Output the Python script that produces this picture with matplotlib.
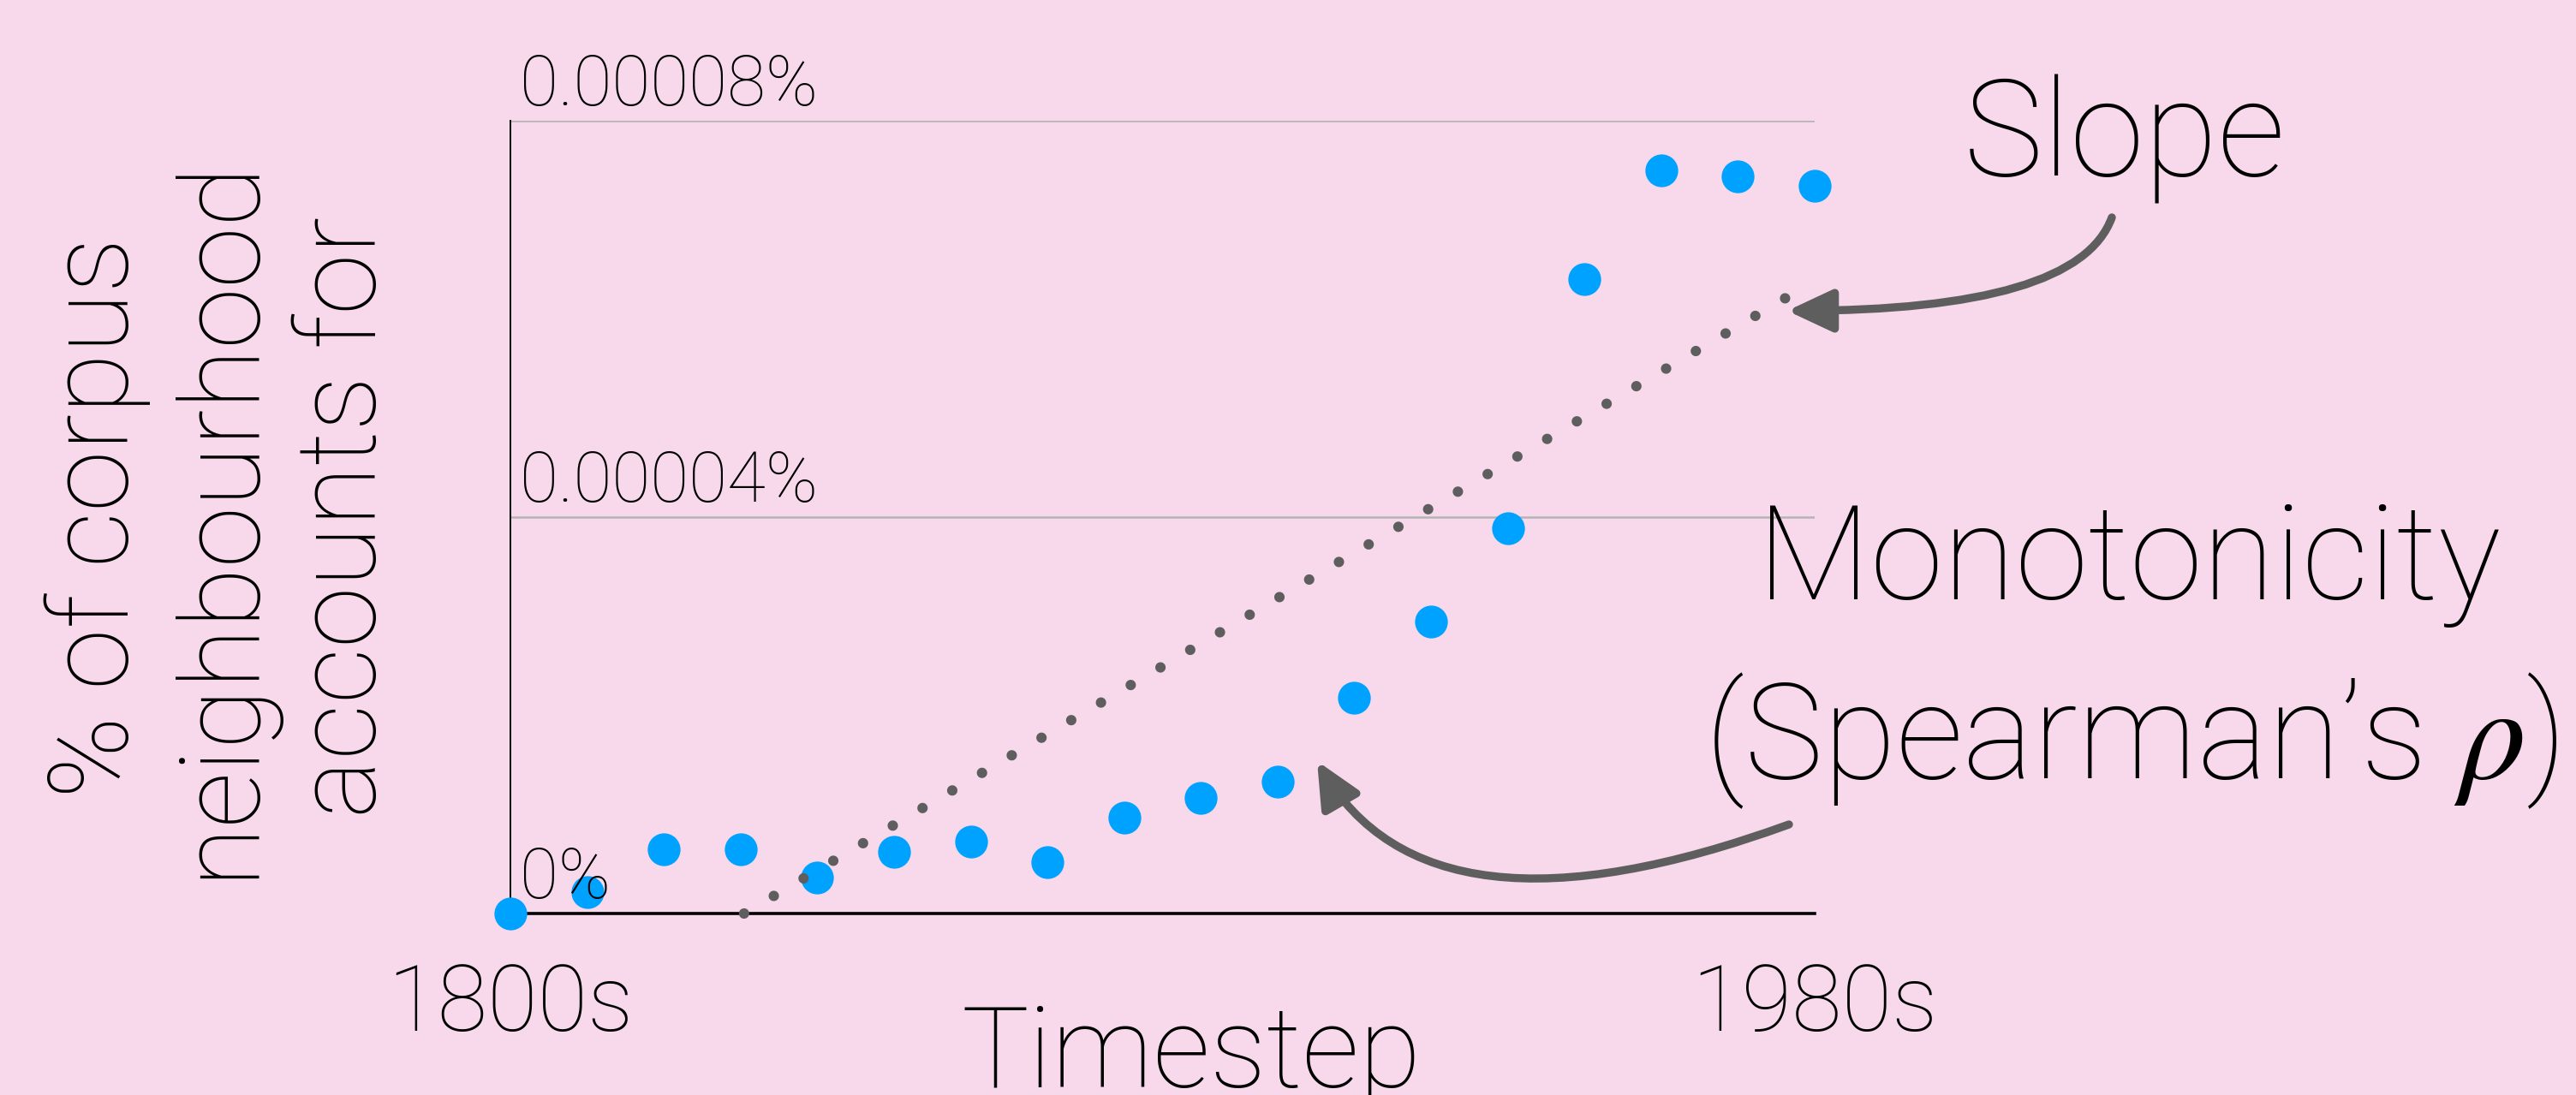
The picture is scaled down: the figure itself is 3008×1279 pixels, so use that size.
import numpy as np
import matplotlib
matplotlib.use("Agg")
import matplotlib.pyplot as plt
from matplotlib.patches import FancyArrowPatch

# share of corpus the neighbourhood accounts for, in units of 1e-5 %
share = [0.0, 0.22, 0.65, 0.65, 0.36, 0.62, 0.73, 0.52, 0.97,
         1.17, 1.33, 2.18, 2.95, 3.89, 6.40, 7.50, 7.44, 7.34]
y_ticks = [0, 4, 8]
y_tick_labels = ["0%", "0.00004%", "0.00008%"]
x_tick_labels = ["1800s", "1980s"]

PINK = "#F7D9EB"
BLUE = "#00A2FF"
GREY = "#5E5E5E"

plt.rcParams["font.family"] = ["Roboto", "DejaVu Sans"]
plt.rcParams["font.weight"] = "light"
plt.rcParams["mathtext.fontset"] = "stix"

W, H = 3008, 1279


def fx(px):
    return px / W


def fy(py):
    return 1 - py / H


fig = plt.figure(figsize=(W / 100, H / 100), dpi=100, facecolor=PINK)
ax = fig.add_axes([fx(596), fy(1067), fx(2119) - fx(596), fy(141) - fy(1067)])
ax.set_facecolor(PINK)

x = np.arange(len(share))
y = np.array(share)

# =====================================================
# Points + trend
# =====================================================

ax.scatter(x, y, s=760, color=BLUE, linewidths=0, zorder=3, clip_on=False)

# least squares line, only drawn above zero
slope, icept = np.polyfit(x, y, 1)
x0 = -icept / slope
xt = np.array([x0, x[-1]])
ax.plot(
    xt,
    slope * xt + icept,
    color=GREY,
    lw=8.8,
    dashes=(0.001, 3.3),
    dash_capstyle="round",
    zorder=4,
    clip_on=False,
)

# =====================================================
# Axes
# =====================================================

ax.set_xlim(x[0], x[-1])
ax.set_ylim(y_ticks[0], y_ticks[-1])

ax.set_yticks(y_ticks)
ax.yaxis.grid(True, color="#B4B4B4", lw=1.8)
ax.set_axisbelow(True)
ax.tick_params(axis="y", length=0, labelleft=False)

for v, lab in zip(y_ticks, y_tick_labels):
    ax.annotate(
        lab,
        xy=(x[0], v),
        xytext=(8, 13),
        textcoords="offset points",
        ha="left",
        va="baseline",
        fontsize=59,
    )

ax.set_xticks([x[0], x[-1]], x_tick_labels)
ax.tick_params(axis="x", length=0, pad=40, labelsize=77)

for side in ["top", "right"]:
    ax.spines[side].set_visible(False)
ax.spines["left"].set_linewidth(1.4)
ax.spines["bottom"].set_linewidth(2.6)
ax.spines["left"].set_color("black")
ax.spines["bottom"].set_color("black")

fig.text(fx(1391), fy(1270), "Timestep", ha="center", va="baseline", fontsize=95)

fig.text(
    fx(258),
    fy(604),
    "% of corpus\nneighbourhood\naccounts for",
    rotation=90,
    ha="center",
    va="center",
    multialignment="center",
    linespacing=1.2,
    fontsize=93,
)

# =====================================================
# Annotations
# =====================================================

fig.text(fx(2481), fy(206), "Slope", ha="center", va="baseline", fontsize=113)
fig.text(fx(2486), fy(700), "Monotonicity", ha="center", va="baseline", fontsize=111)
fig.text(fx(2488), fy(909), "(Spearman\u2019s $\\rho$)", ha="center", va="baseline", fontsize=112)

arrow_kw = dict(
    arrowstyle="-|>,head_length=32,head_width=15",
    mutation_scale=1,
    lw=6.8,
    color=GREY,
    shrinkA=0,
    shrinkB=0,
    transform=fig.transFigure,
)

fig.patches.append(
    FancyArrowPatch(
        (fx(2466), fy(254)),
        (fx(2087), fy(363)),
        connectionstyle="angle3,angleA=70,angleB=0",
        **arrow_kw,
    )
)
fig.patches.append(
    FancyArrowPatch(
        (fx(2089), fy(963)),
        (fx(1538), fy(889)),
        connectionstyle="angle3,angleA=20,angleB=-60",
        **arrow_kw,
    )
)

fig.savefig("out.png", dpi=100, facecolor=PINK)
